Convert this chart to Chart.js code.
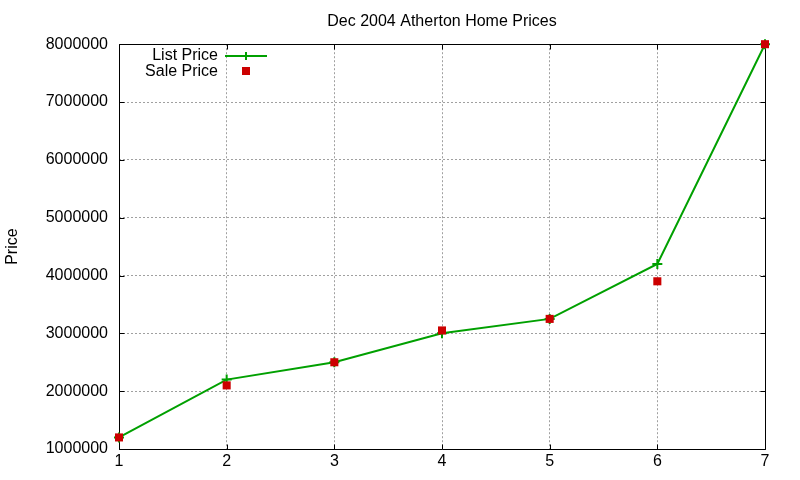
<!DOCTYPE html>
<html>
<head>
<meta charset="utf-8">
<title>Dec 2004 Atherton Home Prices</title>
<script src="https://cdn.jsdelivr.net/npm/chart.js@4"></script>
<style>
  html, body { margin: 0; padding: 0; background: #fff; }
  #wrap { width: 800px; height: 480px; }
</style>
</head>
<body>
<div id="wrap"><canvas id="priceChart"></canvas></div>
<script>
// values
var homes = [1, 2, 3, 4, 5, 6, 7];
var listPrice = [1200000, 2200000, 2500000, 3000000, 3250000, 4200000, 8000000];
var salePrice = [1200000, 2100000, 2500000, 3050000, 3250000, 3900000, 8000000];
var xTicks = [1, 2, 3, 4, 5, 6, 7];
var yTicks = [1000000, 2000000, 3000000, 4000000, 5000000, 6000000, 7000000, 8000000];

var GREEN = 'rgb(0, 160, 0)';
var RED = 'rgb(204, 0, 0)';
var FONT = '"Liberation Sans", Arial, sans-serif';

function toPoints(vals) {
    return homes.map(function (h, i) { return { x: h, y: vals[i] }; });
}

// gnuplot style box with inward ticks on all four sides
var framePlugin = {
    id: 'frame',
    beforeDatasetsDraw: function (chart) {
        var ctx = chart.ctx, a = chart.chartArea;
        var x = chart.scales.x, y = chart.scales.y;
        var len = 5;
        var l = Math.round(a.left) + 0.5, r = Math.round(a.right) + 0.5;
        var t = Math.round(a.top) + 0.5, b = Math.round(a.bottom) + 0.5;
        ctx.save();
        ctx.strokeStyle = '#000';
        ctx.lineWidth = 1;
        ctx.beginPath();
        xTicks.forEach(function (v) {
            var px = Math.round(x.getPixelForValue(v)) + 0.5;
            ctx.moveTo(px, b); ctx.lineTo(px, b - len);
            ctx.moveTo(px, t); ctx.lineTo(px, t + len);
        });
        yTicks.forEach(function (v) {
            var py = Math.round(y.getPixelForValue(v)) + 0.5;
            ctx.moveTo(l, py); ctx.lineTo(l + len, py);
            ctx.moveTo(r, py); ctx.lineTo(r - len, py);
        });
        ctx.rect(l, t, r - l, b - t);
        ctx.stroke();
        ctx.restore();
    }
};

// key in the top left corner, text to the left of the sample
var keyPlugin = {
    id: 'key',
    afterDraw: function (chart) {
        var ctx = chart.ctx;
        var tx = 218, sx = 246;
        ctx.save();
        ctx.font = '16px ' + FONT;
        ctx.fillStyle = '#000';
        ctx.textAlign = 'right';
        ctx.textBaseline = 'middle';
        ctx.fillText('List Price', tx, 56);
        ctx.fillText('Sale Price', tx, 72);

        ctx.strokeStyle = GREEN;
        ctx.lineWidth = 2;
        ctx.beginPath();
        ctx.moveTo(225, 56); ctx.lineTo(267, 56);
        ctx.moveTo(sx, 52); ctx.lineTo(sx, 60);
        ctx.stroke();

        ctx.fillStyle = RED;
        ctx.fillRect(sx - 4, 67, 8, 8);
        ctx.restore();
    }
};

var ctx = document.getElementById('priceChart').getContext('2d');
var chart = new Chart(ctx, {
    type: 'line',
    data: {
        datasets: [{
            label: 'List Price',
            data: toPoints(listPrice),
            borderColor: GREEN,
            backgroundColor: GREEN,
            borderWidth: 2,
            pointStyle: 'cross',
            pointRadius: 5,
            pointBorderWidth: 2,
            fill: false,
            tension: 0,
            clip: false,
            order: 2
        }, {
            label: 'Sale Price',
            data: toPoints(salePrice),
            showLine: false,
            backgroundColor: RED,
            borderColor: RED,
            pointStyle: 'rect',
            pointRadius: 5.7,
            pointBorderWidth: 0,
            clip: false,
            order: 1
        }]
    },
    options: {
        responsive: true,
        maintainAspectRatio: false,
        animation: false,
        events: [],
        layout: { padding: { left: 0, right: 35, top: 1, bottom: 0 } },
        plugins: {
            legend: { display: false },
            tooltip: { enabled: false },
            title: {
                display: true,
                fullSize: false,
                text: 'Dec 2004 Atherton Home Prices',
                color: '#000',
                font: { family: FONT, size: 16, weight: 'normal' },
                padding: { top: 11, bottom: 13 }
            }
        },
        scales: {
            x: {
                type: 'linear',
                min: 1,
                max: 7,
                afterBuildTicks: function (s) { s.ticks = xTicks.map(function (v) { return { value: v }; }); },
                afterFit: function (s) { s.height = 31; },
                ticks: {
                    color: '#000',
                    font: { family: FONT, size: 16 },
                    padding: 3,
                    maxRotation: 0
                },
                grid: { color: '#a0a0a0', lineWidth: 1, drawTicks: false },
                border: { display: false, dash: [2, 2] }
            },
            y: {
                type: 'linear',
                min: 1000000,
                max: 8000000,
                afterBuildTicks: function (s) { s.ticks = yTicks.map(function (v) { return { value: v }; }); },
                afterFit: function (s) { s.width = 119; },
                ticks: {
                    color: '#000',
                    font: { family: FONT, size: 16 },
                    padding: 11,
                    callback: function (v) { return String(v); }
                },
                title: {
                    display: true,
                    text: 'Price',
                    color: '#000',
                    font: { family: FONT, size: 16 },
                    padding: { top: 3, bottom: 0 }
                },
                grid: { color: '#a0a0a0', lineWidth: 1, drawTicks: false },
                border: { display: false, dash: [2, 2] }
            }
        }
    },
    plugins: [framePlugin, keyPlugin]
});
</script>
</body>
</html>
